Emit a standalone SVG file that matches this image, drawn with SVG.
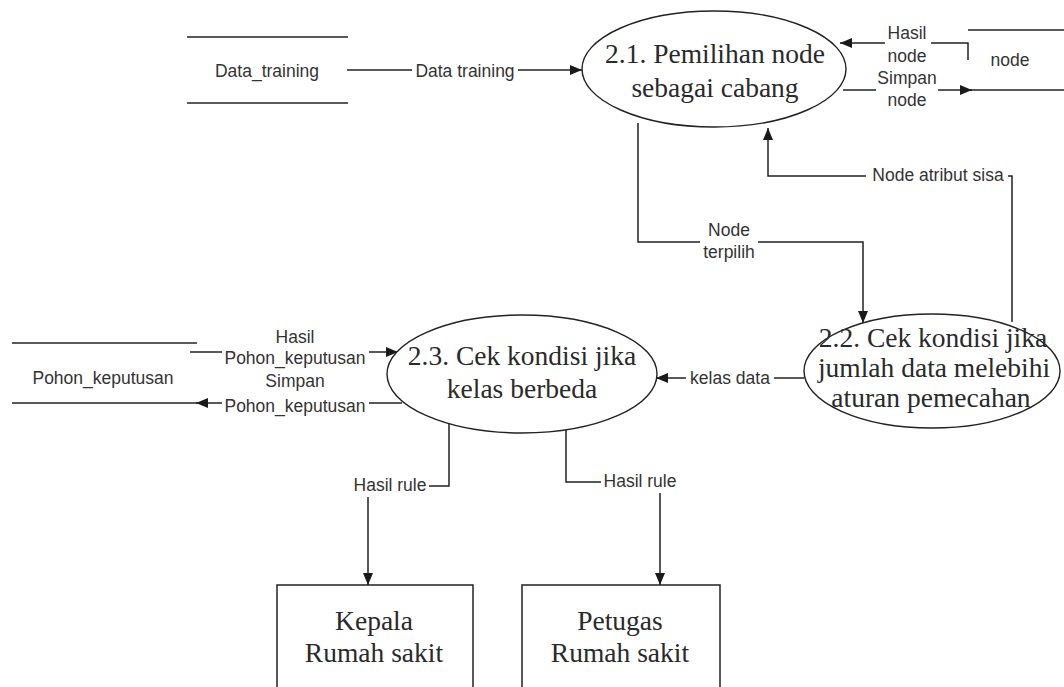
<svg xmlns="http://www.w3.org/2000/svg" width="1064" height="687" viewBox="0 0 1064 687">
  <defs>
    <marker id="arrow" viewBox="0 0 12 10" refX="12" refY="5" markerWidth="12" markerHeight="10" markerUnits="userSpaceOnUse" orient="auto">
      <path d="M0,0 L12,5 L0,10 Z" fill="#1a1a1a"/>
    </marker>
    <style>
      .line { fill: none; stroke: #222; stroke-width: 1.5; }
      .flow { fill: none; stroke: #222; stroke-width: 1.5; marker-end: url(#arrow); }
      .proc { fill: #fff; stroke: #222; stroke-width: 1.4; }
      .ent { fill: #fff; stroke: #222; stroke-width: 1.5; }
      .ptxt { font-family: "Liberation Serif", "Times New Roman", serif; font-size: 27.5px; fill: #2a2a2a; text-anchor: middle; }
      .lbl { font-family: "Liberation Sans", Arial, sans-serif; font-size: 17.5px; fill: #333; text-anchor: middle; }
      .bg { fill: #fff; }
    </style>
  </defs>

  <rect width="1064" height="687" fill="#fff"/>

  <!-- data flows -->
  <g id="connectors">
    <!-- Data_training -> 2.1 -->
    <line class="flow" x1="347" y1="70" x2="582" y2="70"/>
    <rect class="bg" x="412" y="60" width="106" height="22"/>
    <text class="lbl" x="465" y="77">Data training</text>

    <!-- node store -> 2.1 -->
    <polyline class="flow" points="968,60 968,43 840,43"/>
    <rect class="bg" x="885" y="24" width="46" height="42"/>
    <text class="lbl" x="907" y="39">Hasil</text>
    <text class="lbl" x="907" y="62">node</text>

    <!-- 2.1 -> node store -->
    <line class="flow" x1="843" y1="90" x2="972" y2="90"/>
    <rect class="bg" x="876" y="68" width="62" height="42"/>
    <text class="lbl" x="907" y="84">Simpan</text>
    <text class="lbl" x="907" y="106">node</text>

    <!-- 2.2 -> 2.1 -->
    <polyline class="flow" points="1012,322 1012,176 768,176 768,128"/>
    <rect class="bg" x="866" y="164" width="142" height="22"/>
    <text class="lbl" x="938" y="181">Node atribut sisa</text>

    <!-- 2.1 -> 2.2 -->
    <polyline class="flow" points="638,123 638,242 863,242 863,323"/>
    <rect class="bg" x="700" y="218" width="58" height="44"/>
    <text class="lbl" x="729" y="236">Node</text>
    <text class="lbl" x="729" y="258">terpilih</text>

    <!-- 2.2 -> 2.3 -->
    <line class="flow" x1="804" y1="378" x2="656" y2="378"/>
    <rect class="bg" x="686" y="367" width="88" height="22"/>
    <text class="lbl" x="730" y="384">kelas data</text>

    <!-- Pohon_keputusan store -> 2.3 -->
    <line class="flow" x1="190" y1="352" x2="398" y2="352"/>
    <rect class="bg" x="222" y="327" width="147" height="42"/>
    <text class="lbl" x="295" y="343">Hasil</text>
    <text class="lbl" x="295" y="364">Pohon_keputusan</text>

    <!-- 2.3 -> Pohon_keputusan store -->
    <line class="flow" x1="402" y1="403" x2="196" y2="403"/>
    <rect class="bg" x="222" y="371" width="147" height="46"/>
    <text class="lbl" x="295" y="387">Simpan</text>
    <text class="lbl" x="295" y="412">Pohon_keputusan</text>

    <!-- 2.3 -> Kepala Rumah sakit -->
    <polyline class="flow" points="449,424 449,486 368,486 368,585"/>
    <rect class="bg" x="350" y="474" width="79" height="23"/>
    <text class="lbl" x="390" y="491">Hasil rule</text>

    <!-- 2.3 -> Petugas Rumah sakit -->
    <polyline class="flow" points="566,430 566,482 660,482 660,585"/>
    <rect class="bg" x="601" y="470" width="78" height="23"/>
    <text class="lbl" x="640" y="487">Hasil rule</text>
  </g>

  <!-- data stores -->
  <g id="store-data-training">
    <line class="line" x1="187" y1="37" x2="348" y2="37"/>
    <line class="line" x1="187" y1="103" x2="348" y2="103"/>
    <text class="lbl" x="267" y="77">Data_training</text>
  </g>

  <g id="store-node">
    <line class="line" x1="968" y1="30" x2="1064" y2="30"/>
    <line class="line" x1="968" y1="90" x2="1064" y2="90"/>
    <text class="lbl" x="1010" y="66">node</text>
  </g>

  <g id="store-pohon-keputusan">
    <line class="line" x1="12" y1="343" x2="197" y2="343"/>
    <line class="line" x1="12" y1="403" x2="197" y2="403"/>
    <text class="lbl" x="103" y="384">Pohon_keputusan</text>
  </g>

  <!-- processes -->
  <g id="proc-2-1">
    <ellipse class="proc" cx="714" cy="69" rx="132" ry="58"/>
    <text class="ptxt" x="715" y="63">2.1. Pemilihan node</text>
    <text class="ptxt" x="715" y="97">sebagai cabang</text>
  </g>

  <g id="proc-2-2">
    <ellipse class="proc" cx="932" cy="371" rx="128" ry="57"/>
    <text class="ptxt" x="933" y="347">2.2. Cek kondisi jika</text>
    <text class="ptxt" x="934" y="377">jumlah data melebihi</text>
    <text class="ptxt" x="931" y="407">aturan pemecahan</text>
  </g>

  <g id="proc-2-3">
    <ellipse class="proc" cx="522" cy="374" rx="135" ry="59"/>
    <text class="ptxt" x="522" y="365">2.3. Cek kondisi jika</text>
    <text class="ptxt" x="522" y="398">kelas berbeda</text>
  </g>

  <!-- external entities -->
  <g id="ent-kepala">
    <rect class="ent" x="277" y="585" width="196" height="120"/>
    <text class="ptxt" x="374" y="630">Kepala</text>
    <text class="ptxt" x="374" y="662">Rumah sakit</text>
  </g>

  <g id="ent-petugas">
    <rect class="ent" x="522" y="585" width="198" height="120"/>
    <text class="ptxt" x="620" y="630">Petugas</text>
    <text class="ptxt" x="620" y="662">Rumah sakit</text>
  </g>
</svg>
